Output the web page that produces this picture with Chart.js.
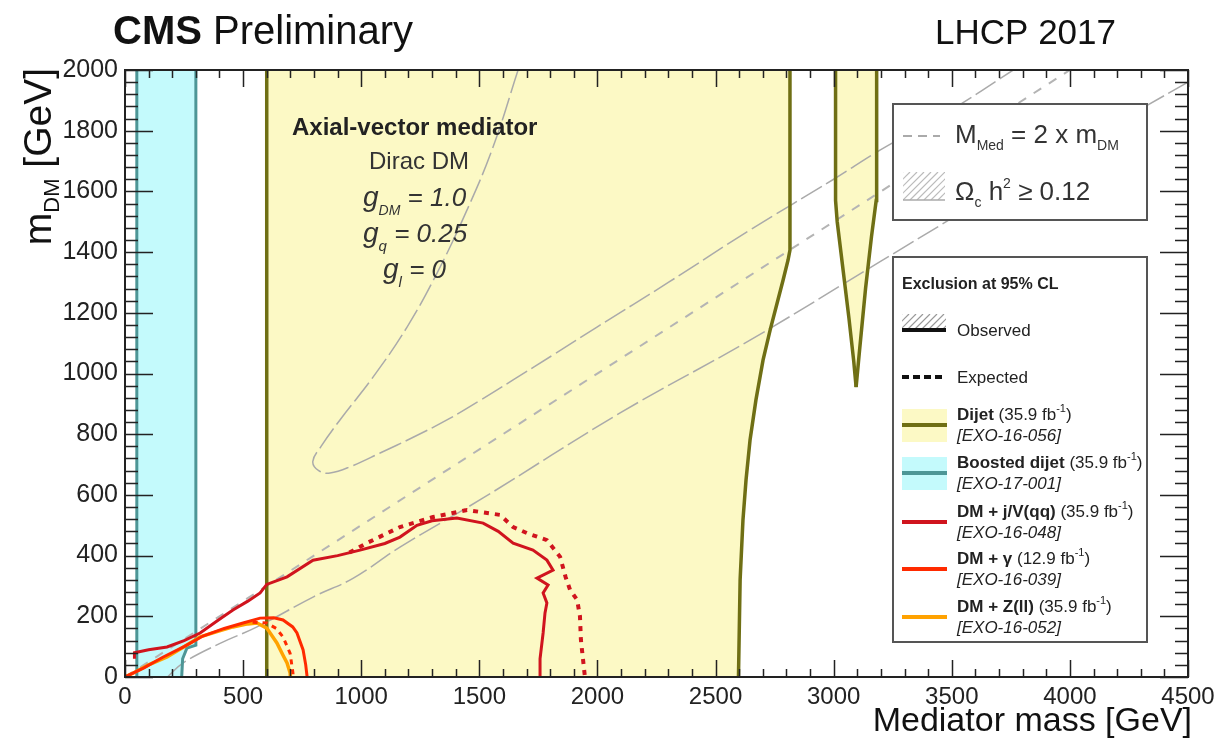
<!DOCTYPE html>
<html>
<head>
<meta charset="utf-8">
<title>CMS Preliminary - axial-vector mediator summary</title>
<script src="https://cdn.jsdelivr.net/npm/chart.js@4.4.1/dist/chart.umd.min.js"></script>
<style>
  html, body { margin: 0; padding: 0; background: #fff; }
  #wrap { position: relative; width: 1214px; height: 750px; }
</style>
</head>
<body>
<div id="wrap"><canvas id="chart"></canvas></div>
<script>
// axis ranges / ticks (GeV)
const massRange = [0, 4500];
const dmRange = [0, 2000];
const massStep = 500, massMinor = 100;
const dmStep = 200, dmMinor = 40;

// all contours as [mediator mass, m_DM] pairs
const dijetLeftEdge = [[600, 0], [600, 2000]];
const dijetRightEdge = [[2597, 0], [2604, 320], [2616, 517], [2629, 649], [2646, 781], [2671, 913],
  [2701, 1044], [2731, 1143], [2764, 1242], [2786, 1308], [2807, 1374], [2815, 1407], [2815, 2000]];
const dijetIslandLeft = [[3008, 2000], [3008, 1570], [3015, 1500], [3040, 1340], [3065, 1180],
  [3085, 1040], [3095, 955]];
const dijetIslandRight = [[3095, 955], [3110, 1080], [3135, 1280], [3160, 1450], [3180, 1570], [3182, 2000]];

const boostedLeftEdge = [[50, 0], [50, 2000]];
const boostedRightEdge = [[300, 2000], [300, 105], [262, 95], [244, 60], [240, 0]];

const jvObserved = [[40, 60], [40, 80], [100, 90], [178, 99], [250, 120], [318, 145], [400, 190],
  [457, 221], [520, 250], [572, 277], [600, 305], [686, 330], [796, 385], [900, 400], [995, 418],
  [1100, 440], [1164, 461], [1236, 500], [1300, 515], [1405, 524], [1516, 507], [1580, 480],
  [1643, 441], [1727, 418], [1786, 385], [1812, 352], [1744, 326], [1791, 303], [1770, 277],
  [1786, 244], [1778, 211], [1770, 145], [1757, 60], [1757, 0]];
const jvExpected = [[950, 410], [1023, 441], [1164, 494], [1304, 527], [1448, 550], [1503, 544],
  [1588, 534], [1643, 494], [1702, 474], [1786, 451], [1842, 396], [1865, 330], [1884, 287],
  [1914, 254], [1926, 200], [1930, 122], [1947, 0]];

const gammaObserved = [[0, 0], [80, 30], [160, 65], [250, 100], [330, 135], [420, 160], [500, 178],
  [572, 194], [630, 195], [669, 188], [710, 165], [728, 145], [754, 89], [765, 40], [771, 0]];
const gammaExpected = [[540, 180], [600, 178], [640, 160], [669, 132], [699, 78], [711, 13], [712, 0]];

const zllObserved = [[0, 0], [35, 13], [100, 40], [178, 66], [250, 100], [318, 132], [400, 152],
  [457, 165], [520, 175], [559, 178], [600, 161], [643, 112], [670, 70], [686, 46], [699, 13], [700, 0]];

const diagonal = [[0, 0], [4000, 2000]];

const relicUpper = [[1664, 2000], [1558, 1746], [1448, 1539], [1321, 1331], [1194, 1153], [1050, 988],
  [910, 847], [830, 760], [795, 710], [820, 680], [868, 672], [960, 695], [1080, 738], [1220, 790],
  [1363, 847], [1500, 910], [1643, 979], [1820, 1065], [1998, 1153], [2300, 1300], [2646, 1473],
  [3000, 1640], [3196, 1736], [3500, 1870], [3760, 2000]];
const relicLower = [[180, 0], [245, 46], [400, 110], [559, 165], [800, 265], [965, 325], [1164, 428],
  [1516, 590], [2096, 870], [2646, 1110], [3200, 1370], [3800, 1650], [4500, 1960]];

const FONT = '"Liberation Sans", Arial, Helvetica, sans-serif';
const YELLOW = '#fcf9c5', CYAN = '#c4fafc', OLIVE = '#6f6f14', TEAL = '#4d9696';
const DARKRED = '#d0141e', RED = '#ff2a00', ORANGE = '#ffa200', GREY = '#aaaaaa';

function pts(arr) {
  return arr.map(p => ({ x: p[0], y: p[1] }));
}

function curve(data, color, width, order, extra) {
  return Object.assign({
    data: pts(data), showLine: true, borderColor: color, borderWidth: width,
    pointRadius: 0, pointHoverRadius: 0, fill: false, tension: 0, order: order
  }, extra || {});
}

function area(data, color, order) {
  return curve(data, 'rgba(0,0,0,0)', 0, order, { fill: 'shape', backgroundColor: color });
}

// text made of runs with different fonts / offsets (sub and superscripts)
function richText(ctx, x, y, parts, align) {
  let w = 0;
  parts.forEach(p => { ctx.font = p[1]; w += ctx.measureText(p[0]).width; });
  let cx = align === 'right' ? x - w : (align === 'center' ? x - w / 2 : x);
  ctx.textAlign = 'left';
  parts.forEach(p => {
    ctx.font = p[1];
    ctx.fillText(p[0], cx, y + (p[2] || 0));
    cx += ctx.measureText(p[0]).width;
  });
}

function hatch(ctx, x0, y0, x1, y1, step, color) {
  ctx.save();
  ctx.beginPath();
  ctx.rect(x0, y0, x1 - x0, y1 - y0);
  ctx.clip();
  ctx.strokeStyle = color;
  ctx.lineWidth = 1.2;
  for (let x = x0 - (y1 - y0); x < x1; x += step) {
    ctx.beginPath();
    ctx.moveTo(x, y1);
    ctx.lineTo(x + (y1 - y0), y0);
    ctx.stroke();
  }
  ctx.restore();
}

function seg(ctx, x0, y0, x1, y1, color, width, dash) {
  ctx.save();
  ctx.strokeStyle = color;
  ctx.lineWidth = width;
  ctx.setLineDash(dash || []);
  ctx.beginPath();
  ctx.moveTo(x0, y0);
  ctx.lineTo(x1, y1);
  ctx.stroke();
  ctx.restore();
}

function drawLegends(ctx) {
  ctx.save();
  ctx.textBaseline = 'alphabetic';
  // upper box: reference lines
  ctx.fillStyle = '#fff';
  ctx.fillRect(893, 104, 254, 116);
  ctx.strokeStyle = '#555';
  ctx.lineWidth = 2;
  ctx.strokeRect(893, 104, 254, 116);
  seg(ctx, 903, 136, 940, 136, GREY, 2, [9, 6]);
  ctx.fillStyle = '#333';
  richText(ctx, 955, 143, [['M', `26px ${FONT}`], ['Med', `14px ${FONT}`, 7],
    [' = 2 x m', `26px ${FONT}`], ['DM', `14px ${FONT}`, 7]]);
  hatch(ctx, 903, 172, 945, 200, 7, '#bbbbbb');
  seg(ctx, 903, 200, 945, 200, GREY, 1.5);
  ctx.fillStyle = '#333';
  richText(ctx, 955, 200, [['\u03A9', `26px ${FONT}`], ['c', `14px ${FONT}`, 7],
    [' h', `26px ${FONT}`], ['2', `14px ${FONT}`, -12], [' \u2265 0.12', `26px ${FONT}`]]);

  // lower box: exclusion contours
  ctx.fillStyle = '#fff';
  ctx.fillRect(893, 257, 254, 385);
  ctx.strokeStyle = '#555';
  ctx.lineWidth = 2;
  ctx.strokeRect(893, 257, 254, 385);
  ctx.fillStyle = '#222';
  ctx.font = `bold 16px ${FONT}`;
  ctx.fillText('Exclusion at 95% CL', 902, 289);

  hatch(ctx, 902, 314, 946, 330, 7, '#999');
  seg(ctx, 902, 330, 946, 330, '#111', 4);
  ctx.fillStyle = '#222';
  ctx.font = `17px ${FONT}`;
  ctx.fillText('Observed', 957, 336);
  seg(ctx, 902, 377, 946, 377, '#111', 4, [7, 4]);
  ctx.fillStyle = '#222';
  ctx.fillText('Expected', 957, 383);

  const entries = [
    { y: 425, fill: YELLOW, line: OLIVE, name: 'Dijet', lumi: '35.9', ref: '[EXO-16-056]' },
    { y: 473, fill: CYAN, line: TEAL, name: 'Boosted dijet', lumi: '35.9', ref: '[EXO-17-001]' },
    { y: 522, fill: null, line: DARKRED, name: 'DM + j/V(qq)', lumi: '35.9', ref: '[EXO-16-048]' },
    { y: 569, fill: null, line: RED, name: 'DM + \u03B3', lumi: '12.9', ref: '[EXO-16-039]' },
    { y: 617, fill: null, line: ORANGE, name: 'DM + Z(ll)', lumi: '35.9', ref: '[EXO-16-052]' }
  ];
  entries.forEach(e => {
    if (e.fill) {
      ctx.fillStyle = e.fill;
      ctx.fillRect(902, e.y - 16, 45, 33);
    }
    seg(ctx, 902, e.y, 947, e.y, e.line, 4);
    ctx.fillStyle = '#222';
    richText(ctx, 957, e.y - 5, [[e.name, `bold 17px ${FONT}`], [' (' + e.lumi + ' fb', `17px ${FONT}`],
      ['-1', `11px ${FONT}`, -8], [')', `17px ${FONT}`]]);
    ctx.font = `italic 17px ${FONT}`;
    ctx.fillText(e.ref, 957, e.y + 16);
  });
  ctx.restore();
}

function drawAnnotations(ctx) {
  ctx.save();
  ctx.textBaseline = 'alphabetic';
  ctx.fillStyle = '#111';
  richText(ctx, 113, 44, [['CMS', `bold 40px ${FONT}`], [' Preliminary', `40px ${FONT}`]]);
  ctx.font = `35px ${FONT}`;
  ctx.textAlign = 'right';
  ctx.fillText('LHCP 2017', 1116, 44);

  ctx.fillStyle = '#222';
  ctx.textAlign = 'left';
  ctx.font = `bold 24px ${FONT}`;
  ctx.fillText('Axial-vector mediator', 292, 135);
  ctx.fillStyle = '#333';
  ctx.font = `24px ${FONT}`;
  ctx.textAlign = 'center';
  ctx.fillText('Dirac DM', 419, 169);
  richText(ctx, 363, 206, [['g', `italic 28px ${FONT}`], ['DM', `italic 14px ${FONT}`, 9],
    [' = 1.0', `italic 26px ${FONT}`]]);
  richText(ctx, 363, 242, [['g', `italic 28px ${FONT}`], ['q', `italic 15px ${FONT}`, 9],
    [' = 0.25', `italic 26px ${FONT}`]]);
  richText(ctx, 383, 278, [['g', `italic 28px ${FONT}`], ['l', `italic 15px ${FONT}`, 9],
    [' = 0', `italic 26px ${FONT}`]]);

  // axis titles
  ctx.fillStyle = '#111';
  ctx.font = `34px ${FONT}`;
  ctx.textAlign = 'right';
  ctx.fillText('Mediator mass [GeV]', 1192, 731);
  ctx.save();
  ctx.translate(51, 68);
  ctx.rotate(-Math.PI / 2);
  richText(ctx, 0, 0, [['m', `39px ${FONT}`], ['DM', `22px ${FONT}`, 8], [' [GeV]', `39px ${FONT}`]], 'right');
  ctx.restore();
  ctx.restore();
}

function drawFrame(ctx, a, xs, ys) {
  ctx.save();
  ctx.strokeStyle = '#222';
  ctx.lineWidth = 1.5;
  ctx.beginPath();
  for (let v = massRange[0]; v <= massRange[1]; v += massMinor) {
    const px = Math.round(xs.getPixelForValue(v)) + 0.5;
    const len = v % massStep === 0 ? 17 : 8;
    ctx.moveTo(px, a.bottom); ctx.lineTo(px, a.bottom - len);
    ctx.moveTo(px, a.top); ctx.lineTo(px, a.top + len);
  }
  for (let v = dmRange[0]; v <= dmRange[1]; v += dmMinor) {
    const py = Math.round(ys.getPixelForValue(v)) + 0.5;
    const len = v % dmStep === 0 ? 28 : 13;
    ctx.moveTo(a.left, py); ctx.lineTo(a.left + len, py);
    ctx.moveTo(a.right, py); ctx.lineTo(a.right - len, py);
  }
  ctx.stroke();
  ctx.lineWidth = 2;
  ctx.strokeRect(a.left, a.top, a.right - a.left, a.bottom - a.top);
  ctx.restore();
}

const decorations = {
  id: 'decorations',
  afterDraw(chart) {
    const ctx = chart.ctx;
    drawLegends(ctx);
    drawAnnotations(ctx);
    drawFrame(ctx, chart.chartArea, chart.scales.x, chart.scales.y);
  }
};

const dijetFill = dijetLeftEdge.concat(dijetRightEdge.slice().reverse());
const islandFill = dijetIslandLeft.concat(dijetIslandRight);
const boostedFill = boostedLeftEdge.concat(boostedRightEdge);

new Chart(document.getElementById('chart'), {
  type: 'scatter',
  data: {
    datasets: [
      curve(jvObserved, DARKRED, 3, 1),
      curve(jvExpected, DARKRED, 4, 2, { borderDash: [5, 6] }),
      curve(gammaObserved, RED, 3, 3),
      curve(gammaExpected, RED, 3, 4, { borderDash: [5, 5] }),
      curve(zllObserved, ORANGE, 3.5, 5),
      curve(dijetLeftEdge, OLIVE, 3.5, 6),
      curve(dijetRightEdge, OLIVE, 3.5, 6),
      curve(dijetIslandLeft, OLIVE, 3.5, 6),
      curve(dijetIslandRight, OLIVE, 3.5, 6),
      curve(boostedLeftEdge, TEAL, 3, 7),
      curve(boostedRightEdge, TEAL, 3, 7),
      curve(diagonal, '#b4b4b4', 2, 8, { borderDash: [9, 9] }),
      curve(relicUpper, GREY, 1.5, 9, { borderDash: [24, 5], tension: 0.4 }),
      curve(relicLower, GREY, 1.5, 9, { borderDash: [24, 5], tension: 0.4 }),
      area(dijetFill, YELLOW, 10),
      area(islandFill, YELLOW, 10),
      area(boostedFill, CYAN, 11)
    ]
  },
  options: {
    responsive: true,
    maintainAspectRatio: false,
    animation: false,
    events: [],
    layout: { padding: { left: 0, right: 26, top: 70, bottom: 0 } },
    plugins: { legend: { display: false }, tooltip: { enabled: false } },
    scales: {
      x: {
        type: 'linear', min: massRange[0], max: massRange[1],
        grid: { display: false, drawTicks: false },
        border: { display: false },
        ticks: {
          stepSize: massStep, autoSkip: false, maxRotation: 0, minRotation: 0, padding: 6,
          color: '#222', font: { family: FONT, size: 24 }, callback: v => String(v)
        },
        afterFit: s => { s.height = 73; s.paddingLeft = 0; s.paddingRight = 0; }
      },
      y: {
        type: 'linear', min: dmRange[0], max: dmRange[1],
        grid: { display: false, drawTicks: false },
        border: { display: false },
        ticks: {
          stepSize: dmStep, autoSkip: false, padding: 7,
          color: '#222', font: { family: FONT, size: 25 }, callback: v => String(v)
        },
        afterFit: s => { s.width = 125; s.paddingTop = 0; s.paddingBottom = 0; }
      }
    }
  },
  plugins: [decorations]
});
</script>
</body>
</html>
